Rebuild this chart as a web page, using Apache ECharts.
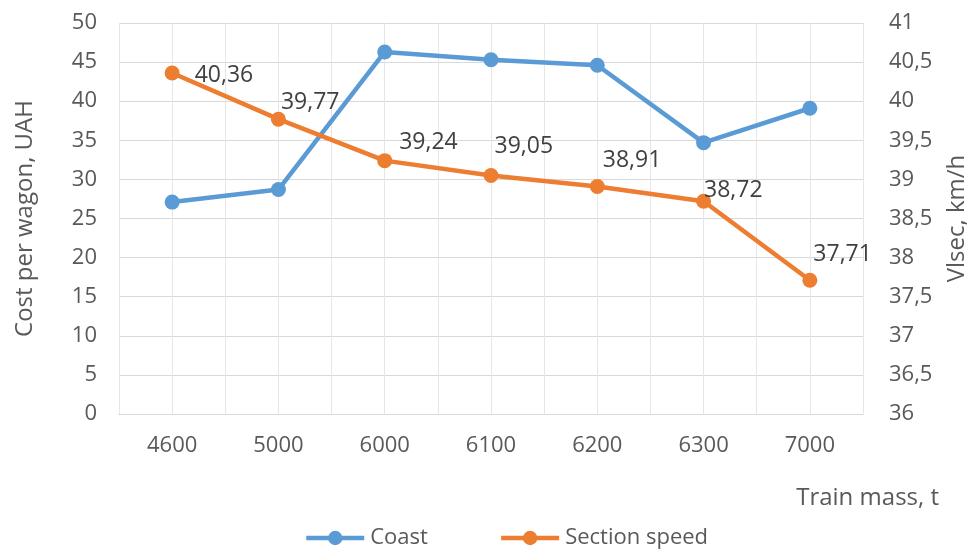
<!DOCTYPE html>
<html>
<head>
<meta charset="utf-8">
<script src="https://cdn.jsdelivr.net/npm/echarts@6/dist/echarts.min.js"></script>
<style>
  html, body { margin: 0; padding: 0; background: #fff; }
  #chart { width: 973px; height: 549px; }
</style>
</head>
<body>
<div id="chart"></div>
<script>
// Train mass categories (t)
const trainMass = ['4600', '5000', '6000', '6100', '6200', '6300', '7000'];
// Cost per wagon, UAH (left axis)
const coast = [27.1, 28.7, 46.3, 45.3, 44.6, 34.7, 39.1];
// Section speed, km/h (right axis)
const sectionSpeed = [40.36, 39.77, 39.24, 39.05, 38.91, 38.72, 37.71];

// Label nudges for the speed values, in pixels [dx, dy]
const speedLabelNudge = [[15, 2], [-5, -17], [7, -18], [-4, -29], [-2, -26], [-7, -11], [-4, -26]];

const FONT = 'Open Sans';
const TEXT = '#595959';

const chart = echarts.init(document.getElementById('chart'), null, { renderer: 'canvas' });

const comma = v => String(v).replace('.', ',');

chart.setOption({
  animation: false,
  textStyle: { fontFamily: FONT },
  grid: { left: 119, right: 110, top: 23, bottom: 135, containLabel: false, outerBoundsMode: 'none' },
  legend: {
    top: 522,
    left: 299,
    itemWidth: 58,
    itemHeight: 18,
    itemGap: 71,
    lineStyle: { width: 4.5 },
    textStyle: { fontFamily: FONT, fontSize: 22, color: TEXT, padding: [0, 0, 0, 1] },
    data: ['Coast', 'Section speed']
  },
  xAxis: [
    {
      type: 'category',
      data: trainMass,
      boundaryGap: true,
      axisLine: { show: true, lineStyle: { color: '#D9D9D9', width: 1 } },
      axisTick: { show: false },
      splitLine: { show: false },
      axisLabel: { color: TEXT, fontSize: 22, margin: 21 },
      name: 'Train mass, t',
      nameLocation: 'end',
      nameGap: 76,
      nameTextStyle: { color: TEXT, fontSize: 24, align: 'right', verticalAlign: 'top', padding: [72, 0, 0, 0] }
    },
    {
      // half-category vertical gridlines
      type: 'value',
      min: 0,
      max: trainMass.length * 2,
      interval: 1,
      position: 'bottom',
      axisLine: { show: false },
      axisTick: { show: false },
      axisLabel: { show: false },
      splitLine: { show: true, lineStyle: { color: '#E6E6E6', width: 1 } }
    }
  ],
  yAxis: [
    {
      type: 'value',
      min: 0,
      max: 50,
      interval: 5,
      axisLine: { show: false },
      axisTick: { show: false },
      axisLabel: { color: TEXT, fontSize: 22, margin: 22 },
      splitLine: { show: true, lineStyle: { color: '#D9D9D9', width: 1 } },
      name: 'Cost per wagon, UAH',
      nameLocation: 'middle',
      nameGap: 82,
      nameTextStyle: { color: TEXT, fontSize: 24 }
    },
    {
      type: 'value',
      min: 36,
      max: 41,
      interval: 0.5,
      position: 'right',
      axisLine: { show: false },
      axisTick: { show: false },
      splitLine: { show: false },
      axisLabel: { color: TEXT, fontSize: 22, margin: 26, formatter: v => comma(v) },
      name: 'Vlsec, km/h',
      nameLocation: 'middle',
      nameGap: 82,
      nameRotate: 90,
      nameTextStyle: { color: TEXT, fontSize: 24 }
    }
  ],
  series: [
    {
      name: 'Coast',
      type: 'line',
      xAxisIndex: 0,
      yAxisIndex: 0,
      data: coast,
      symbol: 'circle',
      symbolSize: 15,
      lineStyle: { color: '#5B9BD5', width: 4.5 },
      itemStyle: { color: '#5B9BD5' },
      z: 3
    },
    {
      name: 'Section speed',
      type: 'line',
      xAxisIndex: 0,
      yAxisIndex: 1,
      data: sectionSpeed.map((v, i) => ({
        value: v,
        label: { offset: speedLabelNudge[i] }
      })),
      symbol: 'circle',
      symbolSize: 15,
      lineStyle: { color: '#ED7D31', width: 4.5 },
      itemStyle: { color: '#ED7D31' },
      label: {
        show: true,
        position: 'right',
        distance: 0,
        color: '#404040',
        fontSize: 23,
        fontFamily: FONT,
        formatter: p => comma(p.value)
      },
      z: 4
    }
  ]
});
</script>
</body>
</html>
